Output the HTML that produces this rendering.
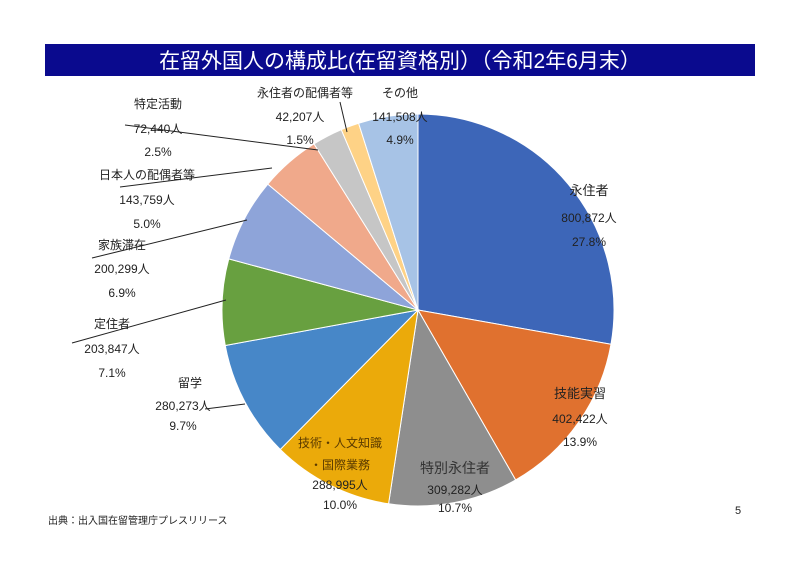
<!DOCTYPE html>
<html><head><meta charset="utf-8">
<style>
body{margin:0;background:#fff;width:800px;height:565px;overflow:hidden;font-family:"Liberation Sans","Noto Sans CJK JP",sans-serif;}
</style></head><body>
<svg width="800" height="565" xmlns="http://www.w3.org/2000/svg" style="font-family:'Liberation Sans','Noto Sans CJK JP',sans-serif">
<rect x="45" y="44" width="710" height="32" fill="#0a0a8e"/>
<text x="400" y="68" fill="#fff" font-size="21" text-anchor="middle">在留外国人の構成比(在留資格別）（令和2年6月末）</text>
<g id="pie" stroke="#fff" stroke-width="1"></g>
<g font-size="12" fill="#222" text-anchor="middle">
<text x="589" y="195" font-size="13">永住者</text>
<text x="589" y="222">800,872人</text>
<text x="589" y="246">27.8%</text>
<text x="580" y="398" font-size="13">技能実習</text>
<text x="580" y="423">402,422人</text>
<text x="580" y="446">13.9%</text>
<text x="455" y="473" font-size="14" fill="#333">特別永住者</text>
<text x="455" y="494">309,282人</text>
<text x="455" y="512">10.7%</text>
<text x="340" y="447" font-size="12" fill="#5a3a00">技術・人文知識</text>
<text x="340" y="469" font-size="12" fill="#5a3a00">・国際業務</text>
<text x="340" y="489">288,995人</text>
<text x="340" y="509">10.0%</text>
<text x="190" y="387">留学</text>
<text x="183" y="410">280,273人</text>
<text x="183" y="430">9.7%</text>
<text x="112" y="328">定住者</text>
<text x="112" y="353">203,847人</text>
<text x="112" y="377">7.1%</text>
<text x="122" y="249">家族滞在</text>
<text x="122" y="273">200,299人</text>
<text x="122" y="297">6.9%</text>
<text x="147" y="179">日本人の配偶者等</text>
<text x="147" y="204">143,759人</text>
<text x="147" y="228">5.0%</text>
<text x="158" y="108">特定活動</text>
<text x="158" y="133">72,440人</text>
<text x="158" y="156">2.5%</text>
<text x="305" y="97">永住者の配偶者等</text>
<text x="300" y="121">42,207人</text>
<text x="300" y="144">1.5%</text>
<text x="400" y="97">その他</text>
<text x="400" y="121">141,508人</text>
<text x="400" y="144">4.9%</text>
</g>
<g stroke="#222" stroke-width="1" fill="none">
<line x1="125" y1="125" x2="318" y2="150"/>
<line x1="120" y1="187" x2="272" y2="168"/>
<line x1="92" y1="258" x2="247" y2="220"/>
<line x1="72" y1="343" x2="226" y2="300"/>
<line x1="205" y1="409" x2="245" y2="404"/>
<line x1="340" y1="102" x2="347" y2="132"/>
</g>
<text x="48" y="524" font-size="10" fill="#222">出典：出入国在留管理庁プレスリリース</text>
<text x="738" y="514" font-size="11" fill="#222" text-anchor="middle">5</text>
</svg>
<script>
var d=[[27.8,'#3d66b8'],[13.9,'#e0712f'],[10.7,'#8e8e8e'],[10.0,'#ebaa0a'],[9.7,'#4787c8'],[7.1,'#68a040'],[6.9,'#8ea4d9'],[5.0,'#f0a98b'],[2.5,'#c6c6c6'],[1.5,'#fed286'],[4.9,'#a7c3e6']];
var cx=418,cy=310,r=196,a=0,g=document.getElementById('pie'),s='';
d.forEach(function(e){var a2=a+e[0]/100*2*Math.PI;
var x1=cx+r*Math.sin(a),y1=cy-r*Math.cos(a),x2=cx+r*Math.sin(a2),y2=cy-r*Math.cos(a2);
s+='<path d="M'+cx+','+cy+'L'+x1+','+y1+'A'+r+','+r+' 0 '+(a2-a>Math.PI?1:0)+',1 '+x2+','+y2+'Z" fill="'+e[1]+'"/>';a=a2;});
g.innerHTML=s;
</script>
</body></html>
